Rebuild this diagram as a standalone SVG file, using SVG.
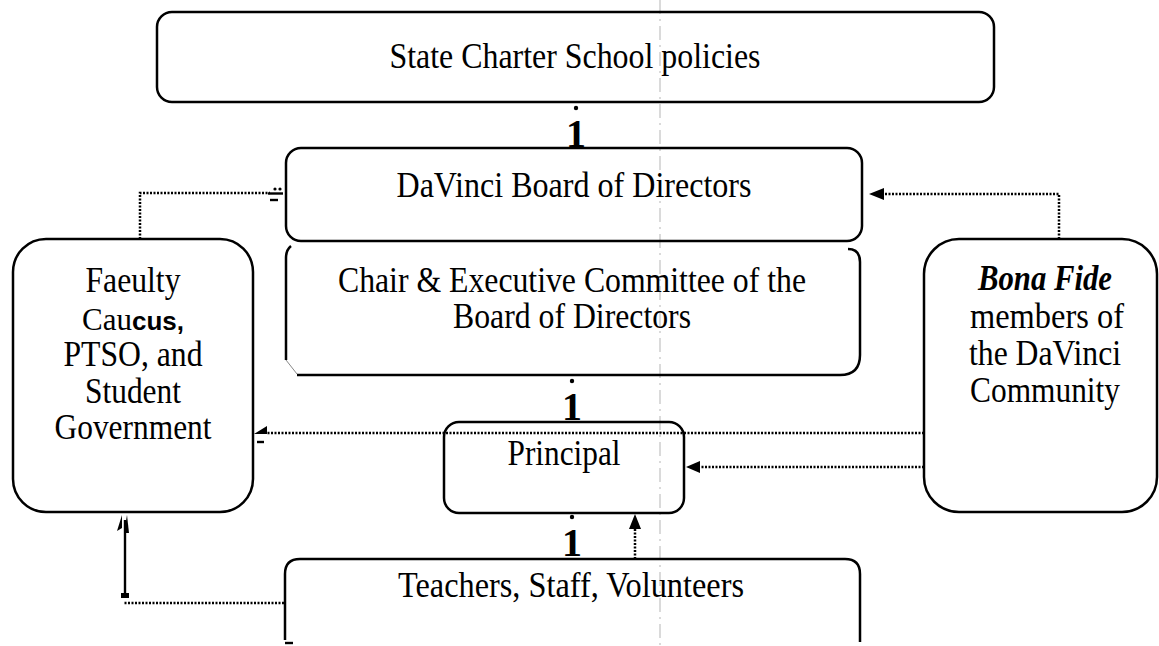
<svg xmlns="http://www.w3.org/2000/svg" width="1159" height="646" viewBox="0 0 1159 646">
<style>
.box{fill:none;stroke:#000;stroke-width:2.5}
.t{font-family:"Liberation Serif","Times New Roman",serif;font-size:35px;fill:#000;text-anchor:middle}
.sb{font-family:"Liberation Sans",Arial,sans-serif;font-weight:bold;font-size:26px;fill:#000}
.bi{font-weight:bold;font-style:italic}
.one{font-family:"Liberation Serif","Times New Roman",serif;font-size:40px;font-weight:bold;fill:#000;text-anchor:middle}
.dot{fill:none;stroke:#000;stroke-width:2.5;stroke-dasharray:2 1.5}
.solid{fill:none;stroke:#000;stroke-width:2.4}
.ah{fill:#000}
.fold{stroke:#b5b5b5;stroke-width:1;stroke-dasharray:14 5 2 5;fill:none}
</style>
<rect width="1159" height="646" fill="#fff"/>
<line class="fold" x1="660" y1="0" x2="660" y2="646"/>

<g id="connectors">
  <circle cx="576" cy="108" r="2.2" class="ah"/>
  <text class="one" x="576" y="147">1</text>
  <circle cx="572" cy="381" r="2.2" class="ah"/>
  <text class="one" x="572" y="420">1</text>
  <circle cx="572" cy="517" r="2.2" class="ah"/>
  <text class="one" x="572" y="556">1</text>
  <polyline class="dot" points="140,239 140,193 270,193"/>
  <line class="solid" x1="268" y1="193.5" x2="283" y2="193.5" stroke-width="3"/>
  <circle cx="275" cy="189" r="1.6" class="ah"/>
  <circle cx="280" cy="189" r="1.6" class="ah"/>
  <line class="solid" x1="270" y1="200" x2="278" y2="200" stroke-width="2.5"/>
  <polyline class="dot" points="1059,239 1059,194 884,194"/>
  <polygon class="ah" points="869,194 884,188 884,200"/>
  <line class="dot" x1="924" y1="433" x2="267" y2="433"/>
  <polygon class="ah" points="254,434 267,426 267,434"/>
  <line class="solid" x1="257" y1="442" x2="264" y2="442" stroke-width="2.5"/>
  <line class="dot" x1="924" y1="467" x2="700" y2="467"/>
  <polygon class="ah" points="686,467 700,461 700,473"/>
  <line class="dot" x1="635" y1="559" x2="635" y2="528"/>
  <polygon class="ah" points="635,514 629,529 641,529"/>
  <line class="dot" x1="284" y1="603" x2="123" y2="603"/>
  <line class="solid" x1="125" y1="598" x2="125" y2="520"/>
  <rect class="ah" x="121" y="593" width="8" height="5"/>
  <path class="ah" d="M122,515 L117,531 L122,528 Z"/>
  <path class="ah" d="M127,515 L124,533 L129,533 Z"/>
</g>

<g id="node-state">
  <rect class="box" x="157" y="12" width="837" height="90" rx="15"/>
  <text class="t" x="575" y="68" textLength="371" lengthAdjust="spacingAndGlyphs">State Charter School policies</text>
</g>

<g id="node-board">
  <rect class="box" x="286" y="148" width="576" height="93" rx="15"/>
  <text class="t" x="574" y="197" textLength="355" lengthAdjust="spacingAndGlyphs">DaVinci Board of Directors</text>
</g>

<g id="node-chair">
  <path class="box" d="M291,246 Q286,250 286,258 L286,360"/>
  <path d="M286,360 L297,374" fill="none" stroke="#888" stroke-width="1"/>
  <path class="box" d="M297,375 L840,375 Q860,375 860,355 L860,262 Q860,249 848,249"/>
  <text class="t" x="572" y="292" textLength="468" lengthAdjust="spacingAndGlyphs">Chair &amp; Executive Committee of the</text>
  <text class="t" x="572" y="328" textLength="238" lengthAdjust="spacingAndGlyphs">Board of Directors</text>
</g>

<g id="node-faculty">
  <rect class="box" x="13" y="239" width="240" height="273" rx="33"/>
  <text class="t" x="133" y="292" textLength="95" lengthAdjust="spacingAndGlyphs">Faeulty</text>
  <text class="t" x="133" y="330" style="font-size:31px">Cau<tspan class="sb">cus,</tspan></text>
  <text class="t" x="133" y="366" textLength="139" lengthAdjust="spacingAndGlyphs">PTSO, and</text>
  <text class="t" x="133" y="403" textLength="96" lengthAdjust="spacingAndGlyphs">Student</text>
  <text class="t" x="133" y="439" textLength="157" lengthAdjust="spacingAndGlyphs">Government</text>
</g>

<g id="node-bonafide">
  <rect class="box" x="924" y="239" width="233" height="273" rx="35"/>
  <text class="t bi" x="1045" y="290" textLength="134" lengthAdjust="spacingAndGlyphs">Bona Fide</text>
  <text class="t" x="1047" y="328" textLength="154" lengthAdjust="spacingAndGlyphs">members of</text>
  <text class="t" x="1045" y="365" textLength="152" lengthAdjust="spacingAndGlyphs">the DaVinci</text>
  <text class="t" x="1045" y="402" textLength="150" lengthAdjust="spacingAndGlyphs">Community</text>
</g>

<g id="node-principal">
  <rect class="box" x="444" y="422" width="240" height="91" rx="15"/>
  <text class="t" x="564" y="465" textLength="113" lengthAdjust="spacingAndGlyphs">Principal</text>
</g>

<g id="node-teachers">
  <path class="box" d="M285,640 L285,574 Q285,559 300,559 L845,559 Q860,559 860,574 L860,642"/>
  <line class="solid" x1="285" y1="643" x2="293" y2="643" stroke-width="1.5"/>
  <text class="t" x="571" y="597" textLength="346" lengthAdjust="spacingAndGlyphs">Teachers, Staff, Volunteers</text>
</g>
</svg>
